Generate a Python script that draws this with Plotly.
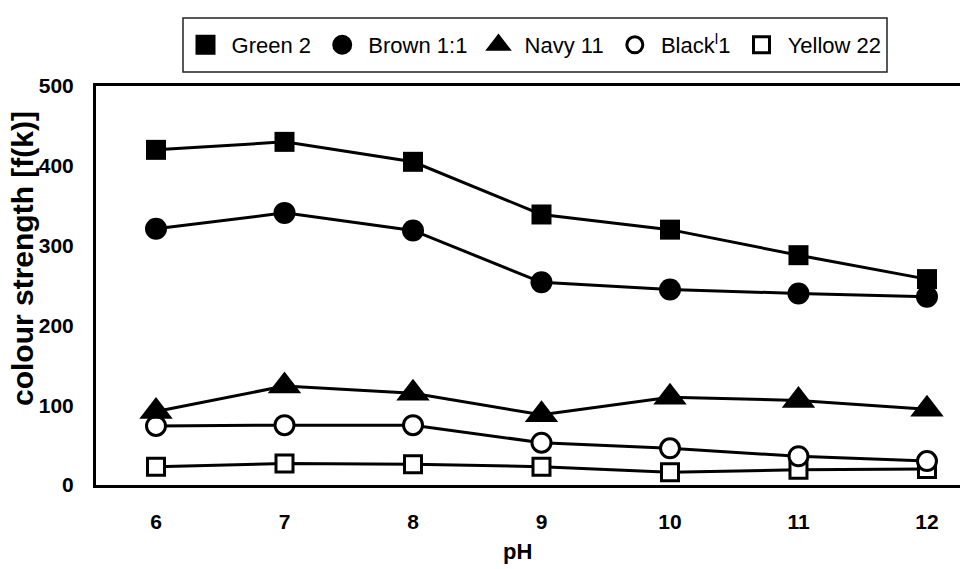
import plotly.graph_objects as go

# ---- data ----
ph = [6, 7, 8, 9, 10, 11, 12]
green_2 = [420, 430, 405, 339, 320, 288, 258]
brown_1_1 = [321, 341, 319, 254, 245, 240, 236]
navy_11 = [92, 124, 115, 88, 110, 106, 95]
black_1 = [74, 75, 75, 53, 46, 36, 30]
yellow_22 = [23, 27, 26, 23, 16, 19, 20]

y_ticks = [0, 100, 200, 300, 400, 500]

NB = "\u00a0"
series = [
    # name, values, symbol, size, filled, legendrank
    ("Yellow 22", yellow_22, "square", 17, False, 5),
    ("Black<sup>l</sup>1", black_1, "circle", 19, False, 4),
    ("Navy 11", navy_11, "triangle-up", 29, True, 3),
    ("Brown 1:1", brown_1_1, "circle", 22, True, 2),
    ("Green 2", green_2, "square", 20, True, 1),
]

fig = go.Figure()
for name, vals, sym, size, filled, rank in series:
    marker = dict(
        symbol=sym,
        size=size,
        color="black" if filled else "white",
        line=dict(color="black", width=0 if filled else 3),
    )
    fig.add_trace(go.Scatter(
        x=ph, y=vals, mode="lines+markers", name=name,
        line=dict(color="black", width=3),
        marker=marker, showlegend=False, legendrank=rank,
    ))
    # legend-only entry (markers without line)
    leg_marker = dict(
        symbol=sym,
        size=16,
        color="black" if filled else "white",
        line=dict(color="black", width=4 if filled else 3),
    )
    fig.add_trace(go.Scatter(
        x=[None], y=[None], mode="markers", name=NB + name + NB,
        marker=leg_marker, showlegend=True, legendrank=rank,
    ))

font_family = "Liberation Sans, Arial, sans-serif"

fig.update_layout(
    width=960, height=569,
    margin=dict(l=96, r=0, t=86, b=84, autoexpand=False),
    paper_bgcolor="white", plot_bgcolor="white",
    font=dict(family=font_family, color="black"),
    legend=dict(
        orientation="h",
        xref="container", yref="container",
        x=539 / 960, xanchor="center",
        y=1 - 45 / 569, yanchor="middle",
        borderwidth=0,
        bgcolor="rgba(0,0,0,0)",
        font=dict(size=22, family=font_family, color="black"),
        traceorder="normal",
    ),
    shapes=[
        # legend frame
        dict(type="rect", xref="paper", yref="paper",
             x0=(183 - 96) / 864, x1=(887 - 96) / 864,
             y0=(485 - 72) / 399, y1=(485 - 18) / 399,
             line=dict(color="#222", width=1.5), fillcolor="rgba(0,0,0,0)",
             layer="below"),
    ],
    xaxis=dict(
        range=[5.533, 12.257],
        tickvals=ph, ticktext=[str(v) for v in ph],
        showgrid=False, zeroline=False,
        showline=True, linecolor="black", linewidth=3, mirror=True,
        ticks="", ticklabelstandoff=16,
        tickfont=dict(size=21, family=font_family, color="black", weight="bold"),
    ),
    yaxis=dict(
        range=[0, 500],
        tickvals=y_ticks,
        showgrid=False, zeroline=False,
        showline=True, linecolor="black", linewidth=3, mirror=False,
        ticks="", ticklabelstandoff=15,
        tickfont=dict(size=21, family=font_family, color="black", weight="bold"),
    ),
    annotations=[
        dict(
            text="colour strength [f(k)]", textangle=-90,
            xref="paper", yref="paper", x=(22 - 96) / 864, y=(485 - 259) / 399,
            xanchor="center", yanchor="middle", showarrow=False,
            font=dict(size=30, family=font_family, color="black", weight="bold"),
        ),
        dict(
            text="pH",
            xref="paper", yref="paper", x=(517 - 96) / 864, y=(485 - 551) / 399,
            xanchor="center", yanchor="middle", showarrow=False,
            font=dict(size=22, family=font_family, color="black", weight="bold"),
        ),
    ],
)

fig.write_html(
    "out.html",
    config={"displayModeBar": False},
    post_script="document.body.style.margin='0';document.body.style.overflow='hidden';",
)
